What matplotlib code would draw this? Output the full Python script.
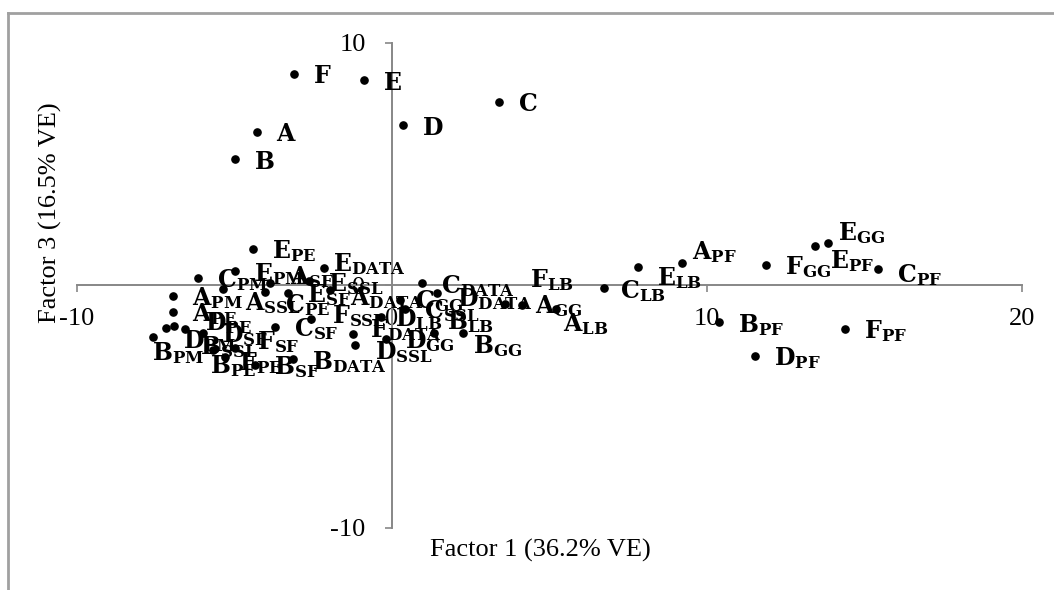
import matplotlib.pyplot as plt
from matplotlib.lines import Line2D

plt.rcParams['font.family'] = ['Liberation Serif', 'DejaVu Serif']
plt.rcParams['mathtext.fontset'] = 'dejavuserif'
plt.rcParams['axes.unicode_minus'] = False

# factor scores (Factor 1 vs Factor 3)
names = ['A', 'B', 'C', 'D', 'E', 'F',
         'A_PF', 'B_PF', 'C_PF', 'D_PF', 'E_PF', 'F_PF',
         'A_GG', 'B_GG', 'C_GG', 'D_GG', 'E_GG', 'F_GG',
         'A_LB', 'B_LB', 'C_LB', 'D_LB', 'E_LB', 'F_LB',
         'A_DATA', 'B_DATA', 'C_DATA', 'D_DATA', 'E_DATA', 'F_DATA',
         'A_SSL', 'B_SSL', 'C_SSL', 'D_SSL', 'E_SSL', 'F_SSL',
         'A_SF', 'B_SF', 'C_SF', 'D_SF', 'E_SF', 'F_SF',
         'A_PE', 'B_PE', 'C_PE', 'D_PE', 'E_PE', 'F_PE',
         'A_PM', 'B_PM', 'C_PM', 'D_PM', 'E_PM']

factor1 = [-4.30, -4.98, 3.40, 0.34, -0.88, -3.10,
           9.20, 10.39, 15.44, 11.52, 13.43, 14.38,
           4.12, 2.26, 0.25, -0.19, 13.83, 11.87,
           5.21, 1.33, 6.73, -0.35, 7.80, 3.59,
           -1.97, -3.15, 0.94, 1.44, -2.15, -1.25,
           -5.36, -6.91, 0.41, -1.17, -2.63, -2.58,
           -3.87, -4.35, -3.71, -6.00, -3.30, -4.98,
           -6.96, -5.67, -4.03, -6.57, -4.42, -5.30,
           -6.96, -7.58, -6.17, -7.17, -4.98]

factor3 = [6.33, 5.19, 7.56, 6.60, 8.46, 8.73,
           0.91, -1.53, 0.67, -2.90, 1.63, -1.80,
           -0.80, -1.97, -0.60, -2.21, 1.76, 0.84,
           -0.98, -1.97, -0.12, -1.30, 0.75, -0.76,
           -0.19, -3.04, 0.09, -0.32, 0.71, -2.00,
           -0.16, -1.69, -0.97, -2.46, 0.16, -1.39,
           0.10, -3.27, -1.70, -1.95, -0.31, -2.58,
           -1.08, -2.67, -0.26, -1.80, 1.50, -2.94,
           -0.43, -2.14, 0.30, -1.76, 0.58]

# label placement (pixels right / down of the marker)
default_nudge = (19, 1)
label_nudge = {
    'A_PF': (10, -13), 'C_PF': (19, 5), 'E_PF': (15, 14),
    'A_GG': (13, 0), 'B_GG': (10, 11), 'C_GG': (15, 0), 'E_GG': (10, -11),
    'A_LB': (7, 13), 'B_LB': (13, -13), 'C_LB': (16, 1), 'D_LB': (14, 1),
    'E_LB': (19, 9), 'F_LB': (25, -25),
    'A_DATA': (20, 7), 'D_DATA': (20, 4), 'E_DATA': (9, -6), 'F_DATA': (17, -5),
    'A_SSL': (22, 12), 'B_SSL': (26, 19), 'D_SSL': (20, 6), 'F_SSL': (21, -4),
    'A_SF': (20, -7), 'F_SF': (22, -7),
    'B_PE': (-3, 14), 'C_PE': (20, 12), 'D_PE': (20, -7), 'F_PE': (14, 5),
    'B_PM': (-1, 14), 'D_PM': (17, 12),
}


def label_text(name):
    if '_' in name:
        base, sub = name.split('_')
        return r'$\mathbf{%s}_{\mathbf{%s}}$' % (base, sub)
    return r'$\mathbf{%s}$' % name


W, H = 1054, 590
fig = plt.figure(figsize=(W / 100, H / 100), dpi=100)
ax = fig.add_axes([77 / W, 1 - 528 / H, 945 / W, (528 - 42.7) / H])
ax.set_xlim(-10, 20)
ax.set_ylim(-10, 10)

ax.scatter(factor1, factor3, s=27, color='black', zorder=3, clip_on=False)

for n, x, y in zip(names, factor1, factor3):
    dx, dy = label_nudge.get(n, default_nudge)
    ax.annotate(label_text(n), (x, y), xytext=(dx, -dy - 8.5),
                textcoords='offset pixels', ha='left', va='baseline',
                fontsize=17, zorder=4, annotation_clip=False)

axis_grey = '#878787'
for side in ['top', 'right']:
    ax.spines[side].set_visible(False)
for side in ['left', 'bottom']:
    ax.spines[side].set_position(('data', 0))
    ax.spines[side].set_color(axis_grey)
    ax.spines[side].set_linewidth(1.4)

ax.set_xticks([-10, 0, 10, 20])
ax.set_yticks([-10, 0, 10])
ax.tick_params(direction='out', length=5, width=1.2, color=axis_grey,
               labelsize=19, labelcolor='black')
ax.tick_params(axis='x', pad=11)
ax.tick_params(axis='y', pad=14)
ax.patch.set_visible(False)

fig.text(540 / W, 1 - 550 / H, 'Factor 1 (36.2% VE)', ha='center', va='center',
         fontsize=19)
fig.text(50 / W, 1 - 213 / H, 'Factor 3 (16.5% VE)', ha='center', va='center',
         rotation=90, fontsize=19)

# chart area border
fig.add_artist(Line2D([8 / W, 8 / W], [0, 1 - 13 / H], transform=fig.transFigure,
                      color='#a0a0a0', lw=2))
fig.add_artist(Line2D([8 / W, 1], [1 - 13 / H, 1 - 13 / H], transform=fig.transFigure,
                      color='#a0a0a0', lw=2))

fig.savefig('out.png', dpi=100)
